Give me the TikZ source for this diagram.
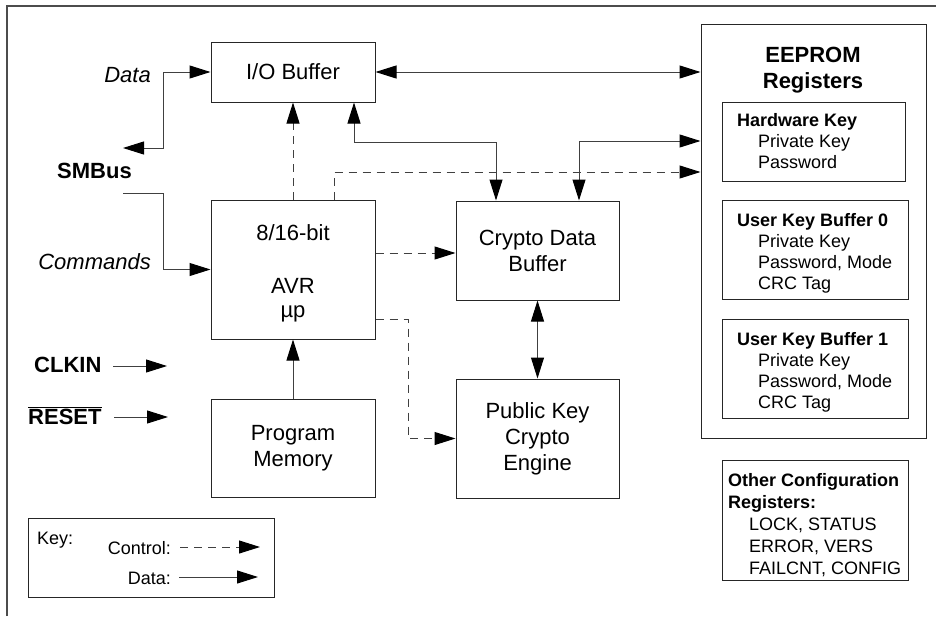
\documentclass[tikz,border=0pt]{standalone}
\usepackage{fontspec}
\setmainfont{Liberation Sans}
\usetikzlibrary{arrows.meta}
\begin{document}
\begin{tikzpicture}[x=1pt,y=-1pt,
  box/.style={draw=black!85, line width=1pt, inner sep=0pt},
  conn/.style={draw=black!75, line width=1pt},
  arr/.style={conn, -{Triangle[length=21pt,width=13pt,color=black]}},
  darr/.style={conn, {Triangle[length=21pt,width=13pt,color=black]}-{Triangle[length=21pt,width=13pt,color=black]}},
  ctrl/.style={dash pattern=on 8pt off 6pt},
  big/.style={font=\fontsize{22}{26}\selectfont},
  small/.style={font=\fontsize{18}{21}\selectfont, inner sep=0pt},
  lbl/.style={font=\fontsize{22}{26}\selectfont, inner sep=0pt},
  sm/.style={font=\fontsize{18}{22}\selectfont, inner sep=0pt}
]
\useasboundingbox (0,0) rectangle (936,616);
% outer frame (right and bottom edges cut off)
\draw[draw=black!70, line width=1.2pt] (7,616) -- (7,6) -- (936,6);

% main blocks
\node[box, big, minimum width=164, minimum height=60] (io) at (293,72) {I/O Buffer};
\node[box, minimum width=164, minimum height=139] (avr) at (293,269.5) {};
\node[lbl, anchor=base] (avr1) at (293,240) {8/16-bit};
\node[lbl, anchor=base] (avr2) at (293,293) {AVR};
\node[lbl, anchor=base] (avr3) at (293,317) {µp};
\node[box, big, align=center, minimum width=164, minimum height=98] (pm) at (293,448) {Program\\Memory};
\node[box, big, align=center, minimum width=163, minimum height=99] (cdb) at (537.5,250.5) {Crypto Data\\Buffer};
\node[box, big, align=center, minimum width=163, minimum height=119] (pk) at (537.5,438.5) {Public Key\\Crypto\\Engine};

% EEPROM
\node[box, minimum width=225, minimum height=414] (ee) at (813.5,231) {};
\node[lbl, font=\fontsize{22}{26}\selectfont\bfseries, anchor=base] (eet1) at (813,62) {EEPROM};
\node[lbl, font=\fontsize{22}{26}\selectfont\bfseries, anchor=base] (eet2) at (813,88) {Registers};

\node[box, minimum width=183, minimum height=79] (hw) at (813.5,141.5) {};
\node[small, align=left, anchor=north west] (hwt) at (737,113)
  {\textbf{Hardware Key}\\\hspace*{21pt}Private Key\\\hspace*{21pt}Password};
\node[box, minimum width=186, minimum height=99] (uk0) at (815,249.5) {};
\node[small, align=left, anchor=north west] (uk0t) at (737,213)
  {\textbf{User Key Buffer 0}\\\hspace*{21pt}Private Key\\\hspace*{21pt}Password, Mode\\\hspace*{21pt}CRC Tag};
\node[box, minimum width=186, minimum height=99] (uk1) at (815,368.5) {};
\node[small, align=left, anchor=north west] (uk1t) at (737,332)
  {\textbf{User Key Buffer 1}\\\hspace*{21pt}Private Key\\\hspace*{21pt}Password, Mode\\\hspace*{21pt}CRC Tag};
\node[box, minimum width=186, minimum height=120] (oc) at (815,520) {};
\node[sm, align=left, anchor=north west] (oct) at (728,473)
  {\textbf{Other Configuration}\\\textbf{Registers:}\\\hspace*{21pt}LOCK, STATUS\\\hspace*{21pt}ERROR, VERS\\\hspace*{21pt}FAILCNT, CONFIG};

% left labels
\node[lbl, font=\fontsize{22}{26}\selectfont\itshape, anchor=base east] (ldata) at (151,82) {Data};
\node[lbl, font=\fontsize{22}{26}\selectfont\bfseries, anchor=base west] (lsmb) at (57,178) {SMBus};
\node[lbl, font=\fontsize{22}{26}\selectfont\itshape, anchor=base east] (lcmd) at (151,269) {Commands};
\node[lbl, font=\fontsize{22}{26}\selectfont\bfseries, anchor=base west] (lclk) at (34,372) {CLKIN};
\node[lbl, font=\fontsize{22}{26}\selectfont\bfseries, anchor=base west] (lrst) at (28,424) {$\overline{\hbox{\fontsize{22}{26}\selectfont\bfseries RESET}}$};

% key box
\node[box, minimum width=246, minimum height=79] (key) at (151,557.5) {};
\node[sm, anchor=base west] (keyt) at (37,544) {Key:};
\node[sm, anchor=base east] (keyc) at (171,554) {Control:};
\node[sm, anchor=base east] (keyd) at (171,584) {Data:};
\coordinate (kc1) at (180,547);
\coordinate (kc2) at (260,547);
\coordinate (kd1) at (179,577);
\coordinate (kd2) at (258,577);
\draw[arr, ctrl] (kc1) -- (kc2);
\draw[arr] (kd1) -- (kd2);

% helper coordinates
\coordinate (smbd) at (123,148);
\coordinate (smbc) at (123,193);
\coordinate (bus) at (163,0);
\coordinate (c1) at (334,172);
\coordinate (c2) at (354,142);
\coordinate (c3) at (496,142);
\coordinate (c4) at (579,141);
\coordinate (c5) at (0,253);
\coordinate (c6) at (408,319);
\coordinate (clk1) at (113,366);
\coordinate (clk2) at (167,366);
\coordinate (rst1) at (114,417);
\coordinate (rst2) at (168,417);

% connectors
\draw[darr] (smbd) -| (bus |- io.west) -- (io.west);
\draw[arr] (smbc) -| (bus |- avr.west) -- (avr.west);
\draw[darr] (io.east) -- (io.east -| ee.west);
\draw[arr, ctrl] (avr.north) -- (io.south);
\draw[arr, ctrl] (avr.north -| c1) -- (c1) -- (c1 -| ee.west);
\draw[darr] (io.south -| c2) -- (c2) -- (c3) -- (c3 |- cdb.north);
\draw[darr] (cdb.north -| c4) -- (c4) -- (c4 -| ee.west);
\draw[arr, ctrl] (avr.east |- c5) -- (cdb.west |- c5);
\draw[arr, ctrl] (avr.east |- c6) -- (c6) |- (pk.west);
\draw[darr] (cdb.south) -- (pk.north);
\draw[arr] (pm.north) -- (avr.south);
\draw[arr] (clk1) -- (clk2);
\draw[arr] (rst1) -- (rst2);
\end{tikzpicture}
\end{document}
